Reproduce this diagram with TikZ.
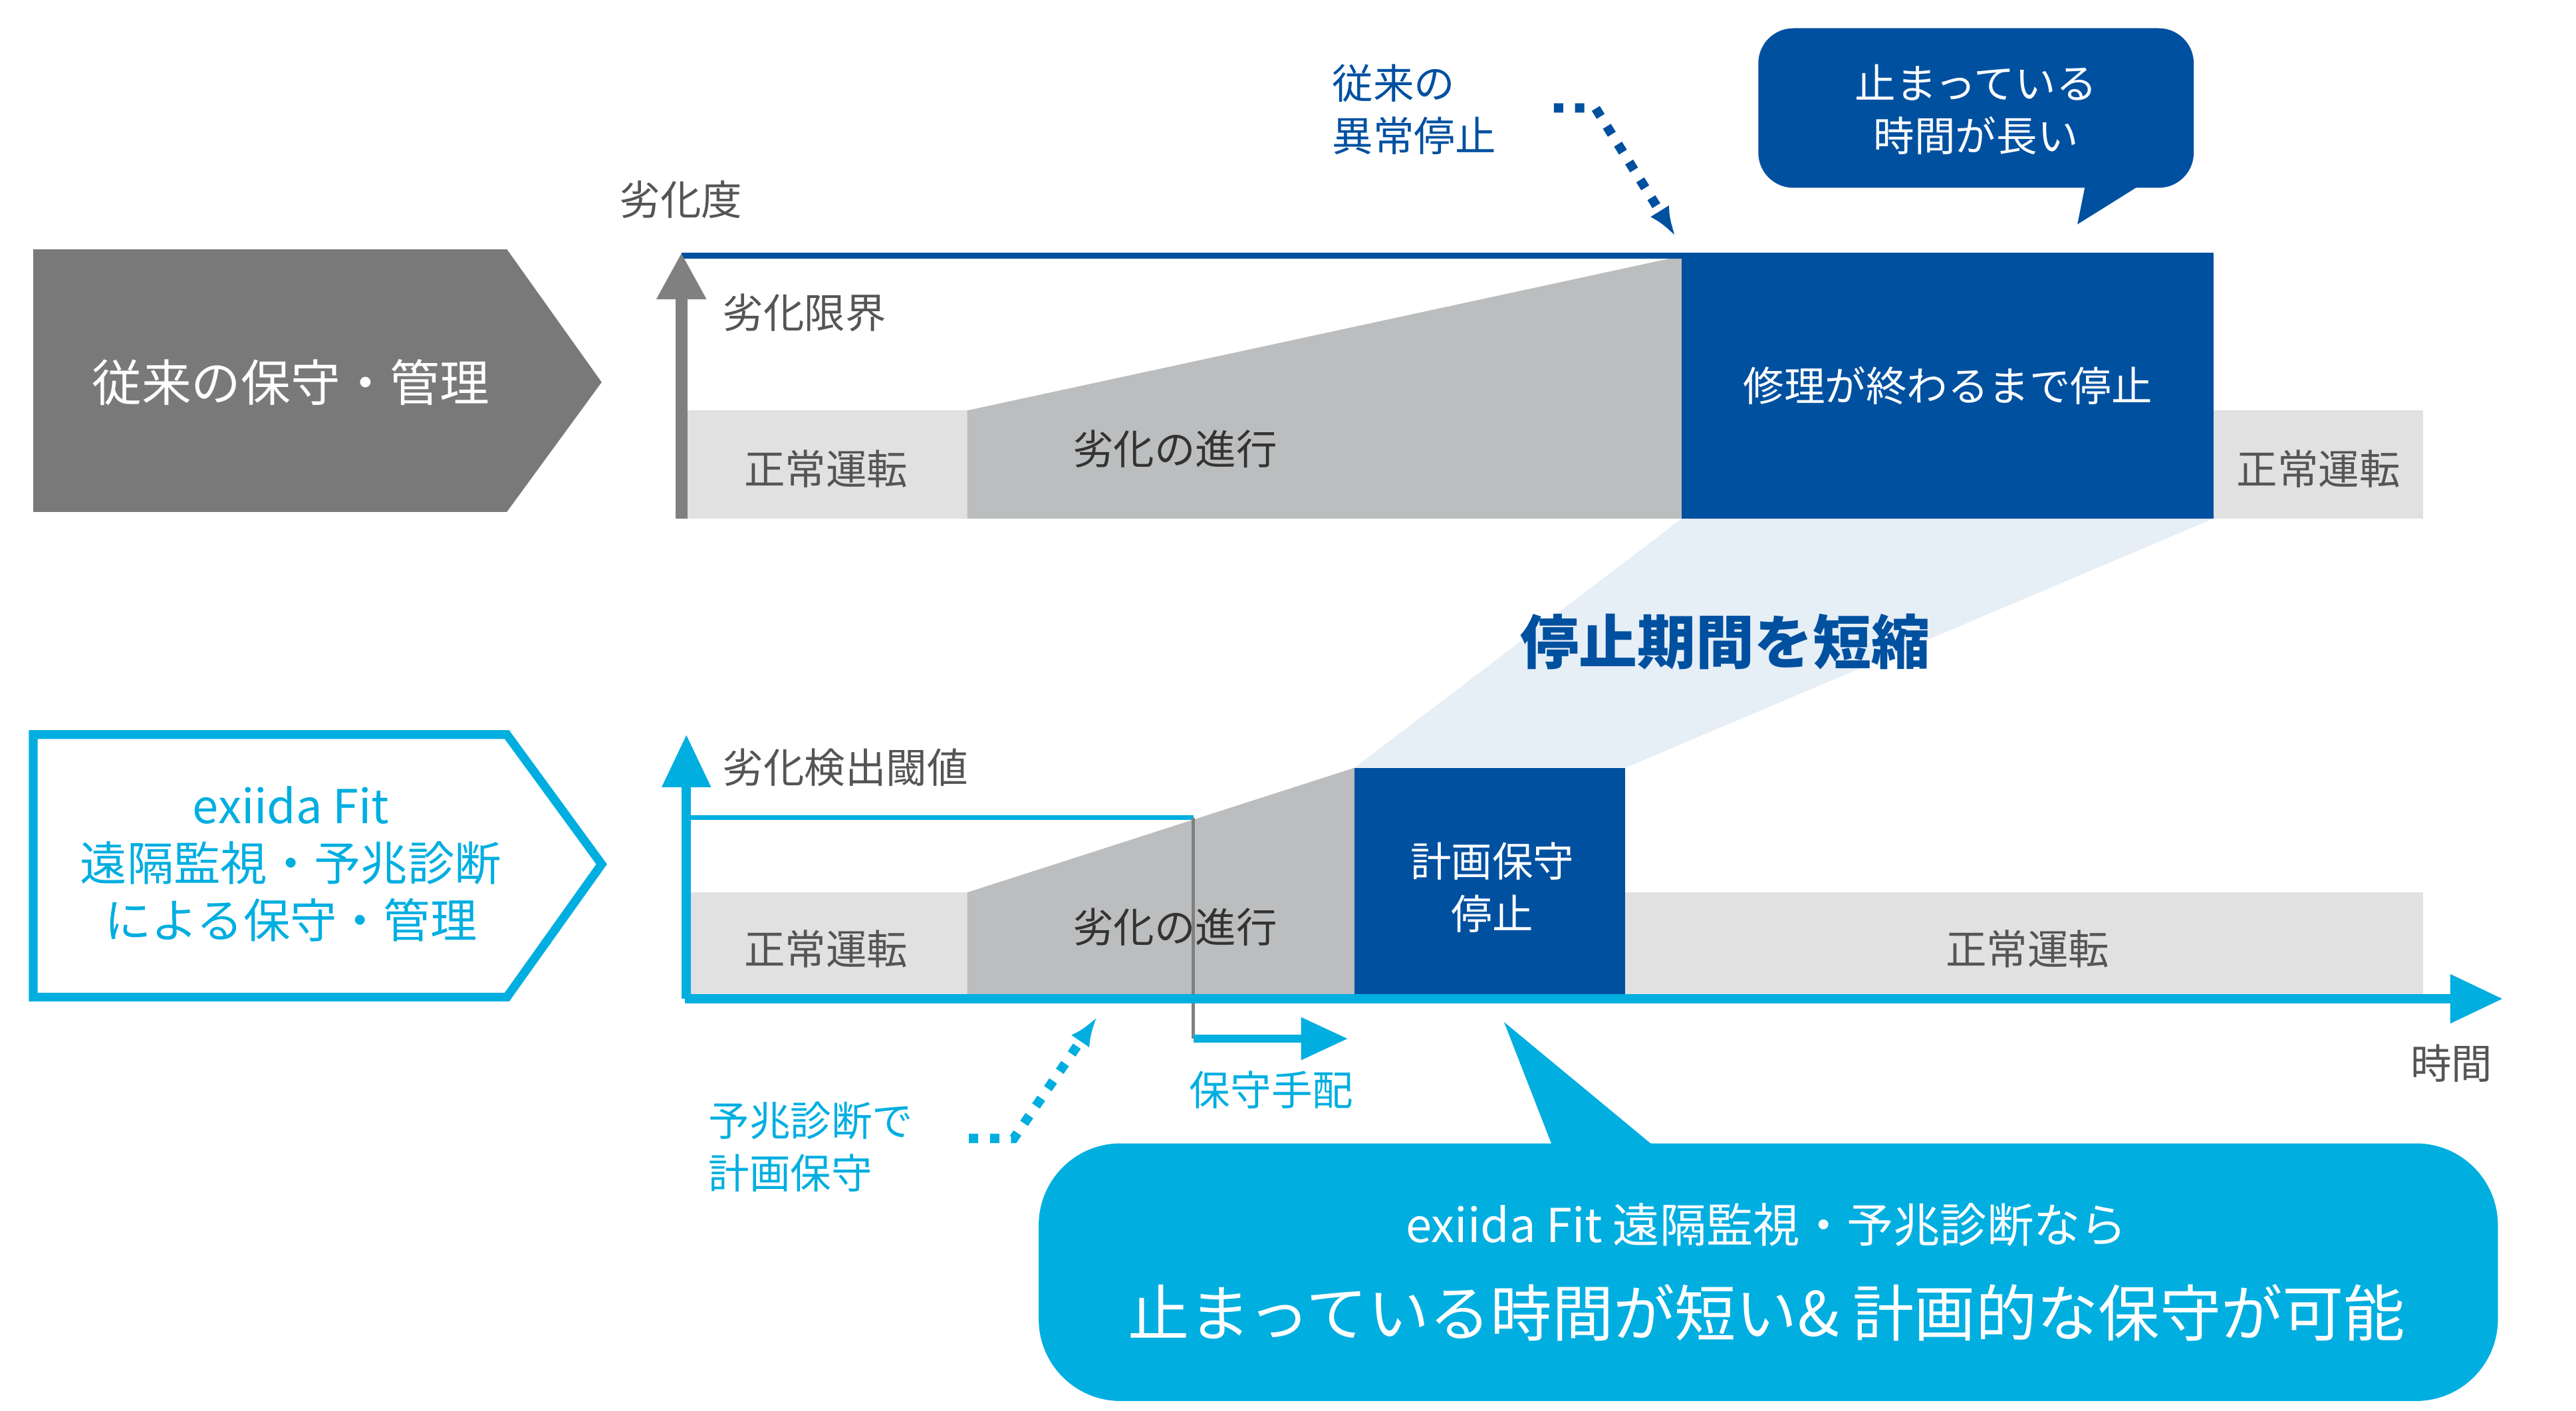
\documentclass[tikz,border=0pt]{standalone}
\usepackage{fontspec}
\setmainfont{Noto Sans CJK JP}
\usetikzlibrary{arrows.meta}
\definecolor{dkblue}{HTML}{0050A0}
\definecolor{cyanb}{HTML}{00AEE0}
\definecolor{ltgray}{HTML}{E1E1E1}
\definecolor{mdgray}{HTML}{BBBDBE}
\definecolor{txgray}{HTML}{555555}
\definecolor{paleblue}{HTML}{E6EEF6}
\begin{document}
\begin{tikzpicture}[x=0.01cm, y=-0.01cm, font=\fontsize{7}{9}\selectfont,
	lab/.style = {text=txgray, inner sep=0pt},
	wlab/.style = {text=white, align=center, inner sep=0pt},
	blab/.style = {text=dkblue, align=left, inner sep=0pt},
	clab/.style = {text=cyanb, align=left, inner sep=0pt},
	dots/.style = {dotted, line width=1.6pt, -{Latex[length=5pt]}}]
	\useasboundingbox (0,0) rectangle (1550,849);
	% upper row
	\fill[gray!95!black] (20,150) -- (305,150) -- (362,230) -- (305,308) -- (20,308) -- cycle;
	\node[wlab, font=\fontsize{8.5}{10}\selectfont] (old) at (175,230) {従来の保守・管理};
	\fill[ltgray] (413,247) rectangle (582,312);
	\fill[mdgray] (582,247) -- (1012,154) -- (1012,312) -- (582,312) -- cycle;
	\fill[ltgray] (1332,247) rectangle (1458,312);
	\fill[paleblue] (1012,312) -- (1332,312) -- (978,462) -- (815,462) -- cycle;
	\fill[dkblue] (1012,152) rectangle (1332,312);
	\draw[dkblue, line width=1pt] (410,154) -- (1012,154);
	\draw[gray, line width=2pt, -{Triangle[length=8pt,width=8pt]}] (410,312) -- (410,152);
	\node[lab, anchor=west] (ax1) at (372,120) {劣化度};
	\node[lab, anchor=west] (lim) at (434,188) {劣化限界};
	\node[lab] (n1) at (497,282) {正常運転};
	\node[text=black!80, inner sep=0pt] (p1) at (707,270) {劣化の進行};
	\node[wlab] (stop1) at (1172,232) {修理が終わるまで停止};
	\node[lab] (n2) at (1395,282) {正常運転};
	\fill[dkblue, rounded corners=6pt] (1058,17) rectangle (1320,113);
	\fill[dkblue] (1255,110) -- (1250,135) -- (1290,110) -- cycle;
	\node[wlab] (long) at (1189,66) {止まっている\\時間が長い};
	\node[blab] (abn) at (851,66) {従来の\\異常停止};
	\coordinate (d1) at (935,65);
	\coordinate (d2) at (1008,142);
	\draw[dots, dkblue] (d1) -- (960,65) -- (d2);
	\node[text=dkblue, font=\fontsize{10}{12}\selectfont\bfseries, inner sep=0pt] (short) at (1038,386) {停止期間を短縮};
	% lower row
	\draw[cyanb, line width=1.5pt] (20,442) -- (305,442) -- (362,520) -- (305,600) -- (20,600) -- cycle;
	\node[text=cyanb, align=center, inner sep=0pt, font=\fontsize{8}{9.8}\selectfont] (new) at (175,520) {exiida Fit\\遠隔監視・予兆診断\\による保守・管理};
	\fill[ltgray] (413,537) rectangle (582,600);
	\fill[mdgray] (582,537) -- (815,462) -- (815,600) -- (582,600) -- cycle;
	\fill[ltgray] (978,537) rectangle (1458,600);
	\fill[dkblue] (815,462) rectangle (978,600);
	\draw[cyanb, line width=0.8pt] (413,492) -- (718,492);
	\draw[gray, line width=0.6pt] (718,492) -- (718,625);
	\draw[cyanb, line width=1.6pt, -{Triangle[length=9pt,width=8pt]}] (413,601) -- (413,442);
	\draw[cyanb, line width=1.6pt, -{Triangle[length=9pt,width=8pt]}] (412,601) -- (1506,601);
	\draw[cyanb, line width=1.3pt, -{Triangle[length=8pt,width=7pt]}] (718,625) -- (811,625);
	\node[lab, anchor=west] (thr) at (434,462) {劣化検出閾値};
	\node[lab] (n3) at (497,571) {正常運転};
	\node[text=black!80, inner sep=0pt] (p2) at (707,558) {劣化の進行};
	\node[wlab] (plan) at (898,534) {計画保守\\停止};
	\node[lab] (n4) at (1220,571) {正常運転};
	\node[lab] (ax2) at (1475,640) {時間};
	\node[clab] (arr) at (765,656) {保守手配};
	\node[clab] (pred) at (488,690) {予兆診断で\\計画保守};
	\coordinate (d3) at (583,685);
	\coordinate (d4) at (660,612);
	\draw[dots, cyanb] (d3) -- (610,685) -- (d4);
	\fill[cyanb, rounded corners=14pt] (625,688) rectangle (1503,843);
	\fill[cyanb] (905,615) -- (935,692) -- (998,692) -- cycle;
	\node[wlab, font=\fontsize{8}{10}\selectfont] (msg1) at (1063,737) {exiida Fit 遠隔監視・予兆診断なら};
	\node[wlab, font=\fontsize{10.5}{12}\selectfont] (msg2) at (1063,790) {止まっている時間が短い\&\ 計画的な保守が可能};
\end{tikzpicture}
\end{document}
